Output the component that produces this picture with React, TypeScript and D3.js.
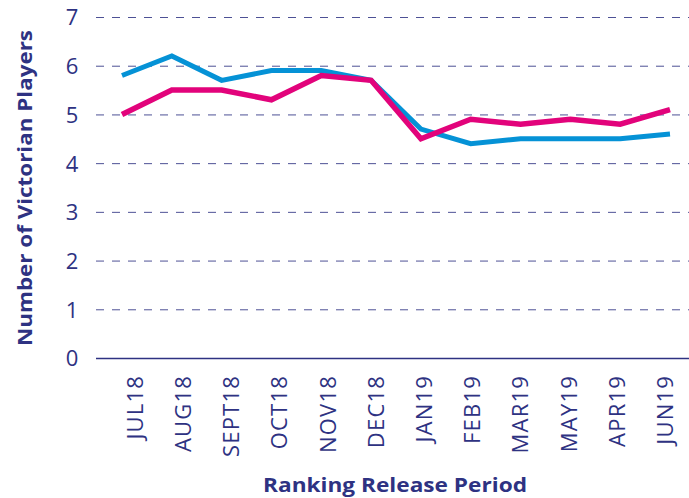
import { axisLeft, line, scaleLinear, scalePoint, select } from 'd3'
import { useEffect, useRef } from 'react'

const periods = ['JUL18', 'AUG18', 'SEPT18', 'OCT18', 'NOV18', 'DEC18', 'JAN19', 'FEB19', 'MAR19', 'MAY19', 'APR19', 'JUN19']
const blueSeries = [5.8, 6.2, 5.7, 5.9, 5.9, 5.7, 4.7, 4.4, 4.5, 4.5, 4.5, 4.6]
const pinkSeries = [5.0, 5.5, 5.5, 5.3, 5.8, 5.7, 4.5, 4.9, 4.8, 4.9, 4.8, 5.1]
const yTicks = [0, 1, 2, 3, 4, 5, 6, 7]

const navy = '#2e3282'
const font = '"Open Sans", sans-serif'

export default function App() {
  const svgRef = useRef<SVGSVGElement>(null)

  useEffect(() => {
    document.body.style.margin = '0'
    const svg = select(svgRef.current)
    svg.selectAll('*').remove()

    const plotLeft = 96
    const plotRight = 689

    // scales
    const y = scaleLinear().domain([0, 7]).range([358, 17])
    const x = scalePoint().domain(periods).range([122, 670])
    const xLabel = scalePoint().domain(periods).range([135, 665])

    // gridlines
    const grid = svg
      .append('g')
      .attr('transform', `translate(${plotLeft},0)`)
      .call(axisLeft(y).tickValues(yTicks).tickSize(-(plotRight - plotLeft)).tickFormat(() => ''))
    grid.select('.domain').remove()
    grid
      .selectAll('.tick line')
      .attr('stroke', navy)
      .attr('stroke-dasharray', (d: any) => (d === 0 ? null : '8,8'))
      .attr('stroke-opacity', (d: any) => (d === 0 ? 1 : 0.85))
      .attr('stroke-width', (d: any) => (d === 0 ? 1.5 : 1))

    // y tick labels
    svg
      .append('g')
      .selectAll('text')
      .data(yTicks)
      .enter()
      .append('text')
      .attr('x', 72)
      .attr('y', (d) => y(d))
      .attr('dy', '0.38em')
      .attr('text-anchor', 'middle')
      .attr('font-family', font)
      .attr('font-size', 22)
      .attr('fill', navy)
      .text((d) => d)

    // x tick labels
    svg
      .append('g')
      .selectAll('text')
      .data(periods)
      .enter()
      .append('text')
      .attr('transform', (d) => `translate(${xLabel(d)},375) rotate(-90)`)
      .attr('dy', '0.36em')
      .attr('text-anchor', 'end')
      .attr('font-family', font)
      .attr('font-size', 22)
      .attr('letter-spacing', 1.2)
      .attr('fill', navy)
      .text((d) => d)

    // lines
    const path = line<number>()
      .x((_, i) => x(periods[i]) as number)
      .y((d) => y(d))

    svg
      .append('path')
      .datum(blueSeries)
      .attr('d', path)
      .attr('fill', 'none')
      .attr('stroke', '#0592d6')
      .attr('stroke-width', 5)

    svg
      .append('path')
      .datum(pinkSeries)
      .attr('d', path)
      .attr('fill', 'none')
      .attr('stroke', '#e2037b')
      .attr('stroke-width', 5.5)

    // axis titles
    svg
      .append('text')
      .attr('transform', 'translate(32,188) rotate(-90)')
      .attr('text-anchor', 'middle')
      .attr('font-family', font)
      .attr('font-weight', 'bold')
      .attr('font-size', 20)
      .attr('textLength', 316)
      .attr('lengthAdjust', 'spacingAndGlyphs')
      .attr('fill', navy)
      .text('Number of Victorian Players')

    svg
      .append('text')
      .attr('x', 395)
      .attr('y', 492)
      .attr('text-anchor', 'middle')
      .attr('font-family', font)
      .attr('font-weight', 'bold')
      .attr('font-size', 20)
      .attr('textLength', 264)
      .attr('lengthAdjust', 'spacingAndGlyphs')
      .attr('fill', navy)
      .text('Ranking Release Period')
  }, [])

  return <svg ref={svgRef} width={689} height={498} style={{ display: 'block', background: '#fff' }} />
}
